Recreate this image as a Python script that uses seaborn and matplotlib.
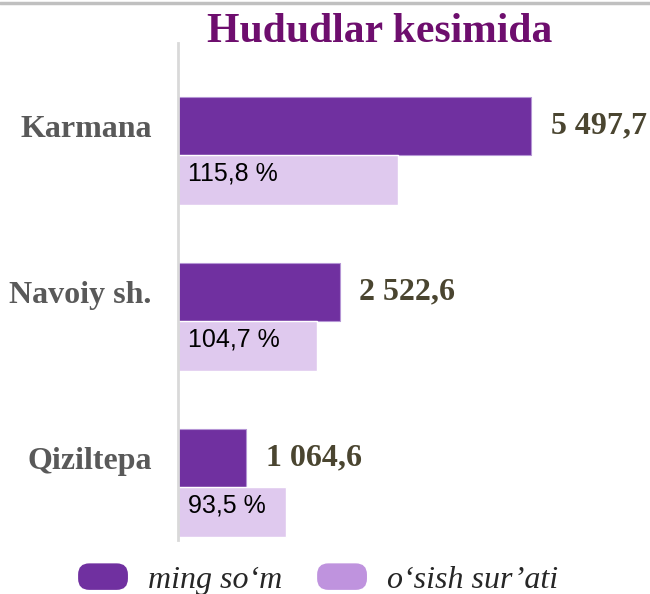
import numpy as np
import pandas as pd
import matplotlib
matplotlib.use('Agg')
import matplotlib.pyplot as plt
from matplotlib.patches import Patch, FancyBboxPatch
from matplotlib.legend_handler import HandlerPatch
from matplotlib.lines import Line2D
import seaborn as sns

# ---------------- data ----------------
hududlar = ['Karmana', 'Navoiy sh.', 'Qiziltepa']
ming_som = [5497.7, 2522.6, 1064.6]          # dark bars
osish_foiz = [115.8, 104.7, 93.5]            # growth rate labels
osish_bar = [3425, 2164, 1682]               # light bar lengths as drawn in the picture
seriya = ['ming so\u2018m', 'o\u2018sish sur\u2019ati']

df = pd.DataFrame({
    'hudud': hududlar * 2,
    'qiymat': ming_som + osish_bar,
    'seriya': [seriya[0]] * 3 + [seriya[1]] * 3,
})

dark = '#7030A0'
light = '#DFC9EE'
light_leg = '#BF93DE'
serif = 'Liberation Serif'

sns.set_style('white')
plt.rcParams['font.family'] = ['Liberation Serif', 'DejaVu Sans']

fig = plt.figure(figsize=(6.5, 5.94), dpi=100)
ax = fig.add_axes([178 / 650, 54 / 594, 472 / 650, 497 / 594])

sns.barplot(data=df, y='hudud', x='qiymat', hue='seriya', orient='h',
            palette=[dark, light], width=0.7, dodge=True, saturation=1,
            legend=False, ax=ax)

ax.set_xlim(0, 472 * 15.57)
ax.set_ylim(2.319, -0.675)

# light bars a bit thinner than the dark ones
for bar in ax.containers[1]:
    bar.set_height(0.30)
for bar in ax.containers[0]:
    bar.set_edgecolor('#B595D5')
    bar.set_linewidth(0.8)

# value labels
fmt = lambda v: f'{v:,.1f}'.replace(',', ' ').replace('.', ',')
ax.bar_label(ax.containers[0], labels=[fmt(v) for v in ming_som], padding=14,
             fontsize=23, fontweight='bold', family=serif, color='#4A4530')

for bar, p in zip(ax.containers[1], osish_foiz):
    yc = bar.get_y() + bar.get_height() / 2
    ax.annotate(f'{p:.1f} %'.replace('.', ','), xy=(0, yc), xytext=(7, 5),
                textcoords='offset points', ha='left', va='center',
                fontsize=18, family=['Liberation Sans', 'DejaVu Sans'],
                color='black')

# axes style
ax.set_yticks(np.arange(len(hududlar)) - 0.175)
ax.set_yticklabels(hududlar, fontsize=23, fontweight='bold', family=serif, color='#595959')
ax.tick_params(axis='y', length=0, pad=19)
ax.set_xticks([])
ax.set_xlabel('')
ax.set_ylabel('')
for s in ['top', 'right', 'bottom']:
    ax.spines[s].set_visible(False)
ax.spines['left'].set_color('#D9D9D9')
ax.spines['left'].set_linewidth(2)

# title and top rule
fig.text(380 / 650, 1 - 32 / 594, 'Hududlar kesimida', ha='center', va='center',
         fontsize=30, fontweight='bold', family=serif, color='#6E0E6E')
fig.add_artist(Line2D([0, 1], [1 - 3 / 594, 1 - 3 / 594], transform=fig.transFigure,
                      color='#C0C0C0', linewidth=2.5))


# legend with rounded handles
class RoundHandler(HandlerPatch):
    def create_artists(self, legend, orig_handle, xdescent, ydescent, width, height, fontsize, trans):
        p = FancyBboxPatch((-xdescent, -ydescent), width, height,
                           boxstyle=f'round,pad=0,rounding_size={height * 0.42}',
                           facecolor=orig_handle.get_facecolor(), edgecolor='none',
                           transform=trans)
        return [p]


handles = [Patch(facecolor=dark), Patch(facecolor=light_leg)]
fig.legend(handles, seriya, loc='center', bbox_to_anchor=(318 / 650, 1 - 579 / 594),
           ncol=2, frameon=False, handler_map={Patch: RoundHandler()},
           handlelength=1.56, handleheight=0.9, handletextpad=0.62, columnspacing=1.1,
           borderpad=0, prop={'family': serif, 'style': 'italic', 'size': 23})

fig.savefig('out.png', dpi=100)
